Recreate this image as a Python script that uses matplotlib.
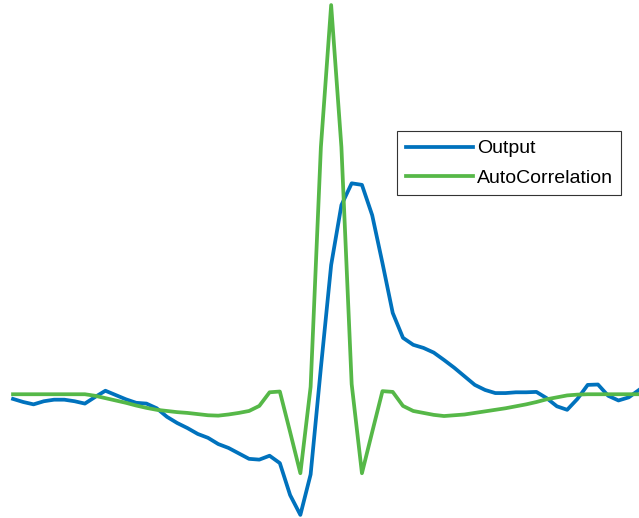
import matplotlib
matplotlib.use('Agg')
import matplotlib.pyplot as plt
import numpy as np

plt.rcParams['font.family'] = ['Liberation Sans', 'DejaVu Sans']

# sample index 0..61
output = [
    -0.012, -0.020, -0.026, -0.018, -0.014, -0.014, -0.018, -0.024, -0.007, 0.009,
    -0.002, -0.013, -0.022, -0.024, -0.036, -0.058, -0.074, -0.087, -0.102, -0.112,
    -0.128, -0.138, -0.152, -0.166, -0.168, -0.158, -0.177, -0.259, -0.310, -0.206,
    0.068, 0.332, 0.486, 0.542, 0.538, 0.460, 0.337, 0.209, 0.145, 0.127,
    0.119, 0.107, 0.088, 0.068, 0.046, 0.024, 0.011, 0.003, 0.003, 0.005,
    0.005, 0.006, -0.010, -0.031, -0.040, -0.012, 0.024, 0.025, -0.004, -0.016,
    -0.008, 0.011,
]
autocorr = [
    0.0, 0.0, 0.0, 0.0, 0.0, 0.0, 0.0, 0.0, -0.004, -0.010,
    -0.016, -0.022, -0.029, -0.035, -0.040, -0.043, -0.046, -0.048, -0.051, -0.054,
    -0.055, -0.052, -0.048, -0.043, -0.030, 0.005, 0.007, -0.097, -0.203, 0.019,
    0.635, 1.000, 0.635, 0.026, -0.203, -0.097, 0.008, 0.006, -0.030, -0.043,
    -0.048, -0.053, -0.056, -0.054, -0.052, -0.048, -0.044, -0.040, -0.036, -0.031,
    -0.026, -0.020, -0.013, -0.008, -0.003, -0.001, 0.0, 0.0, 0.0, 0.0,
    0.0, 0.0,
]
n = np.arange(len(output))

fig = plt.figure(figsize=(6.39, 5.18), dpi=100)
ax = fig.add_axes([0, 0, 1, 1])
ax.plot(n, output, color='#0072BD', lw=2.7, label='Output')
ax.plot(n, autocorr, color='#56B848', lw=2.7, label='AutoCorrelation')
ax.set_xlim(-1.27, 61.0)
ax.set_ylim(-0.318, 1.013)
ax.axis('off')

leg = ax.legend(loc='upper left', bbox_to_anchor=(397 / 639, 1 - 131 / 518),
                fontsize=14, frameon=True, fancybox=False, framealpha=1,
                edgecolor='#333333', handlelength=3.45, handletextpad=0.2,
                labelspacing=0.6, borderpad=0.45, borderaxespad=0)
leg.get_frame().set_linewidth(0.8)

fig.savefig('out.png', dpi=100)
